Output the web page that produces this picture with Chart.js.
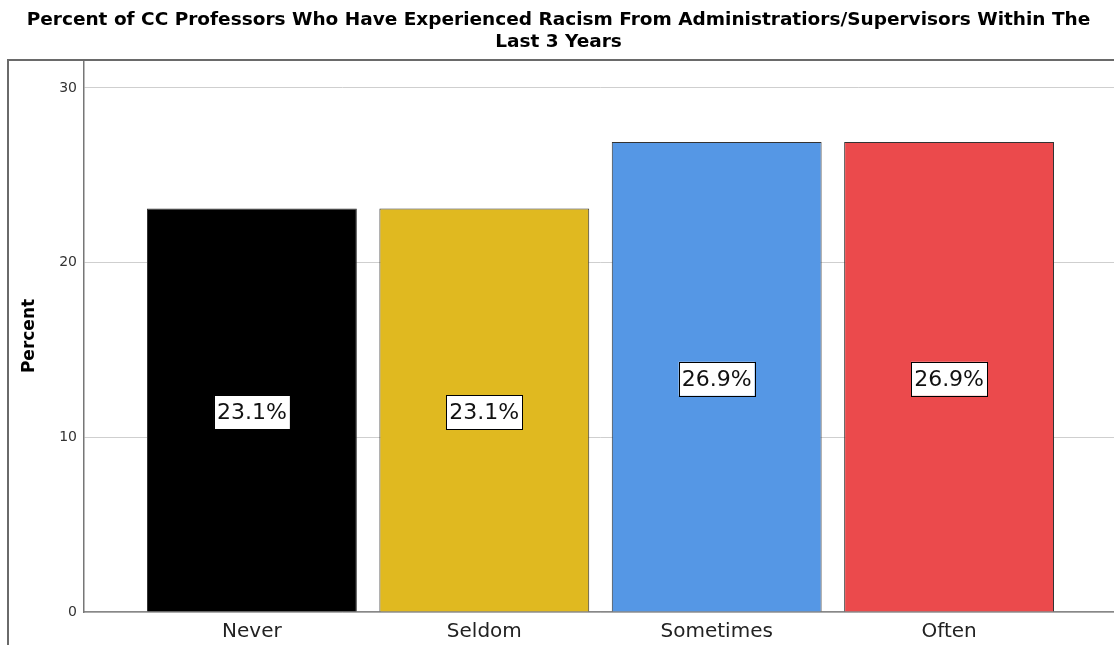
<!DOCTYPE html>
<html>
<head>
<meta charset="utf-8">
<script src="https://cdn.jsdelivr.net/npm/chart.js@4.4.1/dist/chart.umd.min.js"></script>
<style>
  html, body { margin: 0; padding: 0; background: #fff; overflow: hidden; }
  #wrap { width: 1120px; height: 645px; }
</style>
</head>
<body>
<div id="wrap"><canvas id="chart"></canvas></div>
<script>
const titleLines = [
  'Percent of CC Professors Who Have Experienced Racism From Administratiors/Supervisors Within The',
  'Last 3 Years'
];
const categories = ['Never', 'Seldom', 'Sometimes', 'Often'];
const percents = [23.1, 23.1, 26.9, 26.9];
const barColors = ['#000000', '#e0b920', '#5597e5', '#eb4a4c'];
const yTickValues = [0, 10, 20, 30];

// Frame round the plot and the white value boxes on the bars
const extras = {
  id: 'extras',
  afterDraw(chart) {
    const ctx = chart.ctx;
    const area = chart.chartArea;
    ctx.save();
    ctx.strokeStyle = '#6a6a6a';
    ctx.lineWidth = 2;
    ctx.beginPath();
    ctx.moveTo(8, chart.height);
    ctx.lineTo(8, area.top);
    ctx.lineTo(chart.width, area.top);
    ctx.stroke();

    ctx.font = '22px "DejaVu Sans"';
    ctx.textAlign = 'center';
    ctx.textBaseline = 'middle';
    const meta = chart.getDatasetMeta(0);
    meta.data.forEach((bar, i) => {
      const text = percents[i].toFixed(1) + '%';
      const w = ctx.measureText(text).width + 6;
      const h = 34;
      const cx = bar.x;
      const cy = (bar.y + bar.base) / 2 + 2;
      ctx.fillStyle = '#ffffff';
      ctx.fillRect(cx - w / 2, cy - h / 2, w, h);
      ctx.strokeStyle = '#000000';
      ctx.lineWidth = 1;
      ctx.strokeRect(Math.round(cx - w / 2) + 0.5, Math.round(cy - h / 2) + 0.5, Math.round(w), h);
      ctx.fillStyle = '#111111';
      ctx.fillText(text, cx, cy + 1);
    });
    ctx.restore();
  }
};

const ctx = document.getElementById('chart').getContext('2d');
new Chart(ctx, {
  type: 'bar',
  data: {
    datasets: [{
      data: categories.map((c, i) => ({ x: i, y: percents[i] })),
      backgroundColor: barColors,
      borderColor: '#333333',
      borderWidth: 1,
      categoryPercentage: 0.903,
      barPercentage: 1
    }]
  },
  options: {
    responsive: true,
    maintainAspectRatio: false,
    animation: false,
    layout: { padding: { left: 0, right: 3, top: 0, bottom: 0 } },
    plugins: {
      legend: { display: false },
      tooltip: { enabled: false },
      title: {
        display: true,
        text: titleLines,
        color: '#000000',
        font: { family: '"DejaVu Sans"', size: 18.5, weight: 'bold', lineHeight: 1.2 },
        padding: { top: 9, bottom: 6.6 }
      }
    },
    scales: {
      x: {
        type: 'linear',
        offset: false,
        min: -0.7226,
        max: 3.7226,
        grid: { display: false, drawTicks: false },
        border: { color: '#888888', width: 1.5 },
        afterFit: s => { s.height = 33; },
        ticks: {
          stepSize: 1,
          includeBounds: false,
          autoSkip: false,
          maxRotation: 0,
          padding: 8,
          color: '#222222',
          font: { family: '"DejaVu Sans"', size: 20 },
          callback: v => categories[v] ?? ''
        }
      },
      y: {
        min: 0,
        max: 31.6,
        afterFit: s => { s.width = 84; },
        afterBuildTicks: s => { s.ticks = yTickValues.map(v => ({ value: v })); },
        grid: { color: '#cfcfcf', lineWidth: 1, drawTicks: false },
        border: { color: '#777777', width: 1.5 },
        title: {
          display: true,
          text: 'Percent',
          color: '#000000',
          font: { family: '"DejaVu Sans"', size: 17, weight: 'bold' },
          padding: { top: 19, bottom: 0 }
        },
        ticks: {
          padding: 7,
          color: '#333333',
          font: { family: '"DejaVu Sans"', size: 14 }
        }
      }
    }
  },
  plugins: [extras]
});
</script>
</body>
</html>
